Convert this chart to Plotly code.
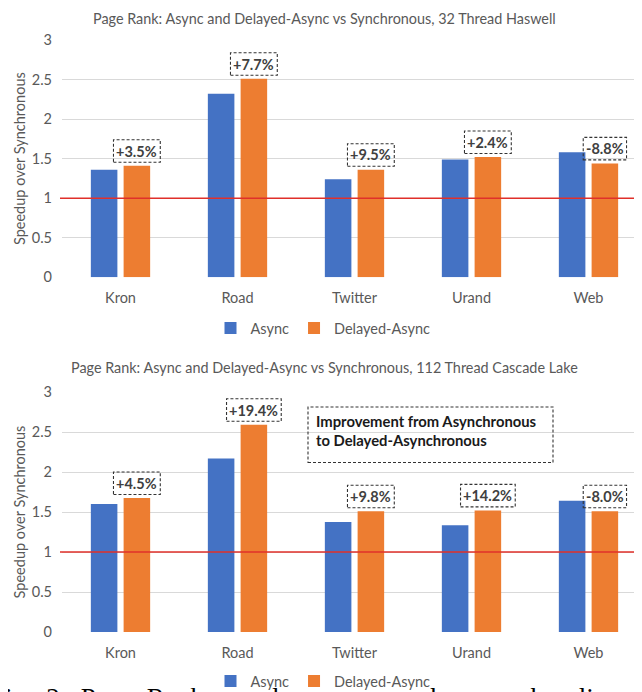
import plotly.graph_objects as go

# ---------------- data ----------------
categories = ["Kron", "Road", "Twitter", "Urand", "Web"]
haswell_async = [1.36, 2.32, 1.24, 1.49, 1.58]
haswell_delayed = [1.41, 2.51, 1.36, 1.52, 1.44]
haswell_labels = ["+3.5%", "+7.7%", "+9.5%", "+2.4%", "-8.8%"]
cascade_async = [1.60, 2.17, 1.375, 1.335, 1.64]
cascade_delayed = [1.675, 2.59, 1.51, 1.52, 1.51]
cascade_labels = ["+4.5%", "+19.4%", "+9.8%", "+14.2%", "-8.0%"]
y_tick_vals = [0, 0.5, 1, 1.5, 2, 2.5, 3]
y_tick_text = ["0", "0.5", "1", "1.5", "2", "2.5", "3"]
series_names = ["Async", "Delayed-Async"]
chart_titles = [
    "Page Rank: Async and Delayed-Async vs Synchronous, 32 Thread Haswell",
    "Page Rank: Async and Delayed-Async vs Synchronous, 112 Thread Cascade Lake",
]
y_title = "Speedup over Synchronous"
note_text = "Improvement from Asynchronous<br>to Delayed-Asynchronous"
caption_text = "Fig. 2: Page Rank speedup over synchronous baseline (re"

# ---------------- style ----------------
WIN_W, WIN_H = 642, 692
OFF = 8  # default page body margin
W, H = WIN_W - OFF, WIN_H - OFF
FONT = "Lato"
GREY = "#595959"
BLUE = "#4472C4"
ORANGE = "#ED7D31"
GRID = "#D9D9D9"
BARGAP = 0.44
BARGROUPGAP = 0.19


def py(px):
    """window pixel row -> paper fraction"""
    return 1 - (px - OFF) / H


def px_x(px):
    """window pixel column -> paper fraction"""
    return (px - OFF) / W


x_pos = list(range(len(categories)))
delayed_off = (1 - BARGAP) / 4
PLOT_LEFT = 62
CAT_W = 117.0

panels = [
    dict(a=haswell_async, d=haswell_delayed, lab=haswell_labels, xa="x", ya="y",
         leg="legend", top=40, bot=277.3, title_top=8),
    dict(a=cascade_async, d=cascade_delayed, lab=cascade_labels, xa="x2", ya="y2",
         leg="legend2", top=392, bot=632, title_top=357),
]

fig = go.Figure()
shapes = []
annotations = []

char_w = {"+": 8.0, "-": 4.5, ".": 3.5, "%": 11.5}

for k, p in enumerate(panels):
    for name, vals, col in ((series_names[0], p["a"], BLUE), (series_names[1], p["d"], ORANGE)):
        fig.add_trace(go.Bar(
            x=x_pos, y=vals, name=name, marker=dict(color=col, line=dict(width=0)),
            xaxis=p["xa"], yaxis=p["ya"], legend=p["leg"], hoverinfo="skip",
        ))
    # reference line at 1
    shapes.append(dict(type="line", xref="paper", x0=px_x(60), x1=1, yref=p["ya"], y0=1, y1=1,
                       line=dict(color="#E0302A", width=1.6), layer="above"))
    # dashed labels above delayed bars
    for i, (v, t) in enumerate(zip(p["d"], p["lab"])):
        w = sum(char_w.get(c, 7.9) for c in t) + 8
        xc = x_pos[i] + delayed_off
        shapes.append(dict(type="rect", xref=p["xa"], yref=p["ya"],
                           xsizemode="pixel", ysizemode="pixel",
                           xanchor=xc, yanchor=v, x0=-w / 2, x1=w / 2, y0=3.5, y1=26,
                           line=dict(color="#333333", width=1.1, dash="3px,2px"),
                           fillcolor="rgba(0,0,0,0)", layer="above"))
        annotations.append(dict(x=xc, y=v, xref=p["xa"], yref=p["ya"], text="<b>%s</b>" % t,
                                showarrow=False, yshift=14.75,
                                font=dict(family=FONT, size=14.5, color="#404040")))
    annotations.append(dict(x=px_x(324.5), y=py(p["title_top"]), xref="paper", yref="paper",
                            text=chart_titles[k], showarrow=False,
                            xanchor="center", yanchor="top",
                            font=dict(family=FONT, size=14.4, color=GREY)))

# note box in the lower chart
shapes.append(dict(type="rect", xref="paper", yref="paper",
                   x0=px_x(308), x1=px_x(553), y0=py(462.5), y1=py(407),
                   line=dict(color="#333333", width=1.1, dash="3px,2px"),
                   fillcolor="rgba(0,0,0,0)"))
annotations.append(dict(x=px_x(314), y=py(430), xref="paper", yref="paper", text="<b>%s</b>" % note_text,
                        showarrow=False, xanchor="left", yanchor="middle", align="left",
                        font=dict(family=FONT, size=14.8, color="#1A1A1A")))

# caption (partially cut at the bottom, justified line)
annotations.append(dict(x=px_x(-12), y=py(681), xref="paper", yref="paper",
                        text=caption_text.replace(" ", " \u2005"),
                        showarrow=False, xanchor="left", yanchor="top",
                        font=dict(family="Liberation Serif", size=27, color="#000000")))

x_range = [-0.5, -0.5 + (WIN_W - PLOT_LEFT) / CAT_W]


def xaxis_style(anchor):
    return dict(domain=[px_x(PLOT_LEFT), 1], range=x_range, anchor=anchor, tickmode="array",
                tickvals=x_pos, ticktext=categories, showgrid=False, zeroline=False,
                showline=False, ticks="", ticklabelstandoff=10,
                tickfont=dict(family=FONT, size=14.5, color=GREY))


def yaxis_style(anchor, top, bot):
    return dict(domain=[py(bot), py(top)], range=[0, 3], anchor=anchor, tickmode="array",
                tickvals=y_tick_vals, ticktext=y_tick_text, showgrid=True, gridcolor=GRID,
                gridwidth=1, zeroline=False, showline=False, ticks="", ticklabelstandoff=9,
                tickfont=dict(family=FONT, size=14.5, color=GREY), automargin=False,
                title=dict(text=y_title, standoff=2, font=dict(family=FONT, size=14.5, color=GREY)))


fig.update_layout(
    width=W, height=H, autosize=False,
    margin=dict(l=0, r=0, t=0, b=0, pad=0, autoexpand=False),
    paper_bgcolor="white", plot_bgcolor="white",
    barmode="group", bargap=BARGAP, bargroupgap=BARGROUPGAP,
    xaxis=xaxis_style("y"), yaxis=yaxis_style("x", 40, 277.3),
    xaxis2=xaxis_style("y2"), yaxis2=yaxis_style("x2", 392, 632),
    legend=dict(orientation="h", x=px_x(323), xanchor="center", y=py(328), yanchor="middle",
                font=dict(family=FONT, size=14.5, color=GREY), bgcolor="rgba(0,0,0,0)"),
    legend2=dict(orientation="h", x=px_x(323), xanchor="center", y=py(681), yanchor="middle",
                 font=dict(family=FONT, size=14.5, color=GREY), bgcolor="rgba(0,0,0,0)"),
    shapes=shapes, annotations=annotations,
)

fig.write_html("out.html")
